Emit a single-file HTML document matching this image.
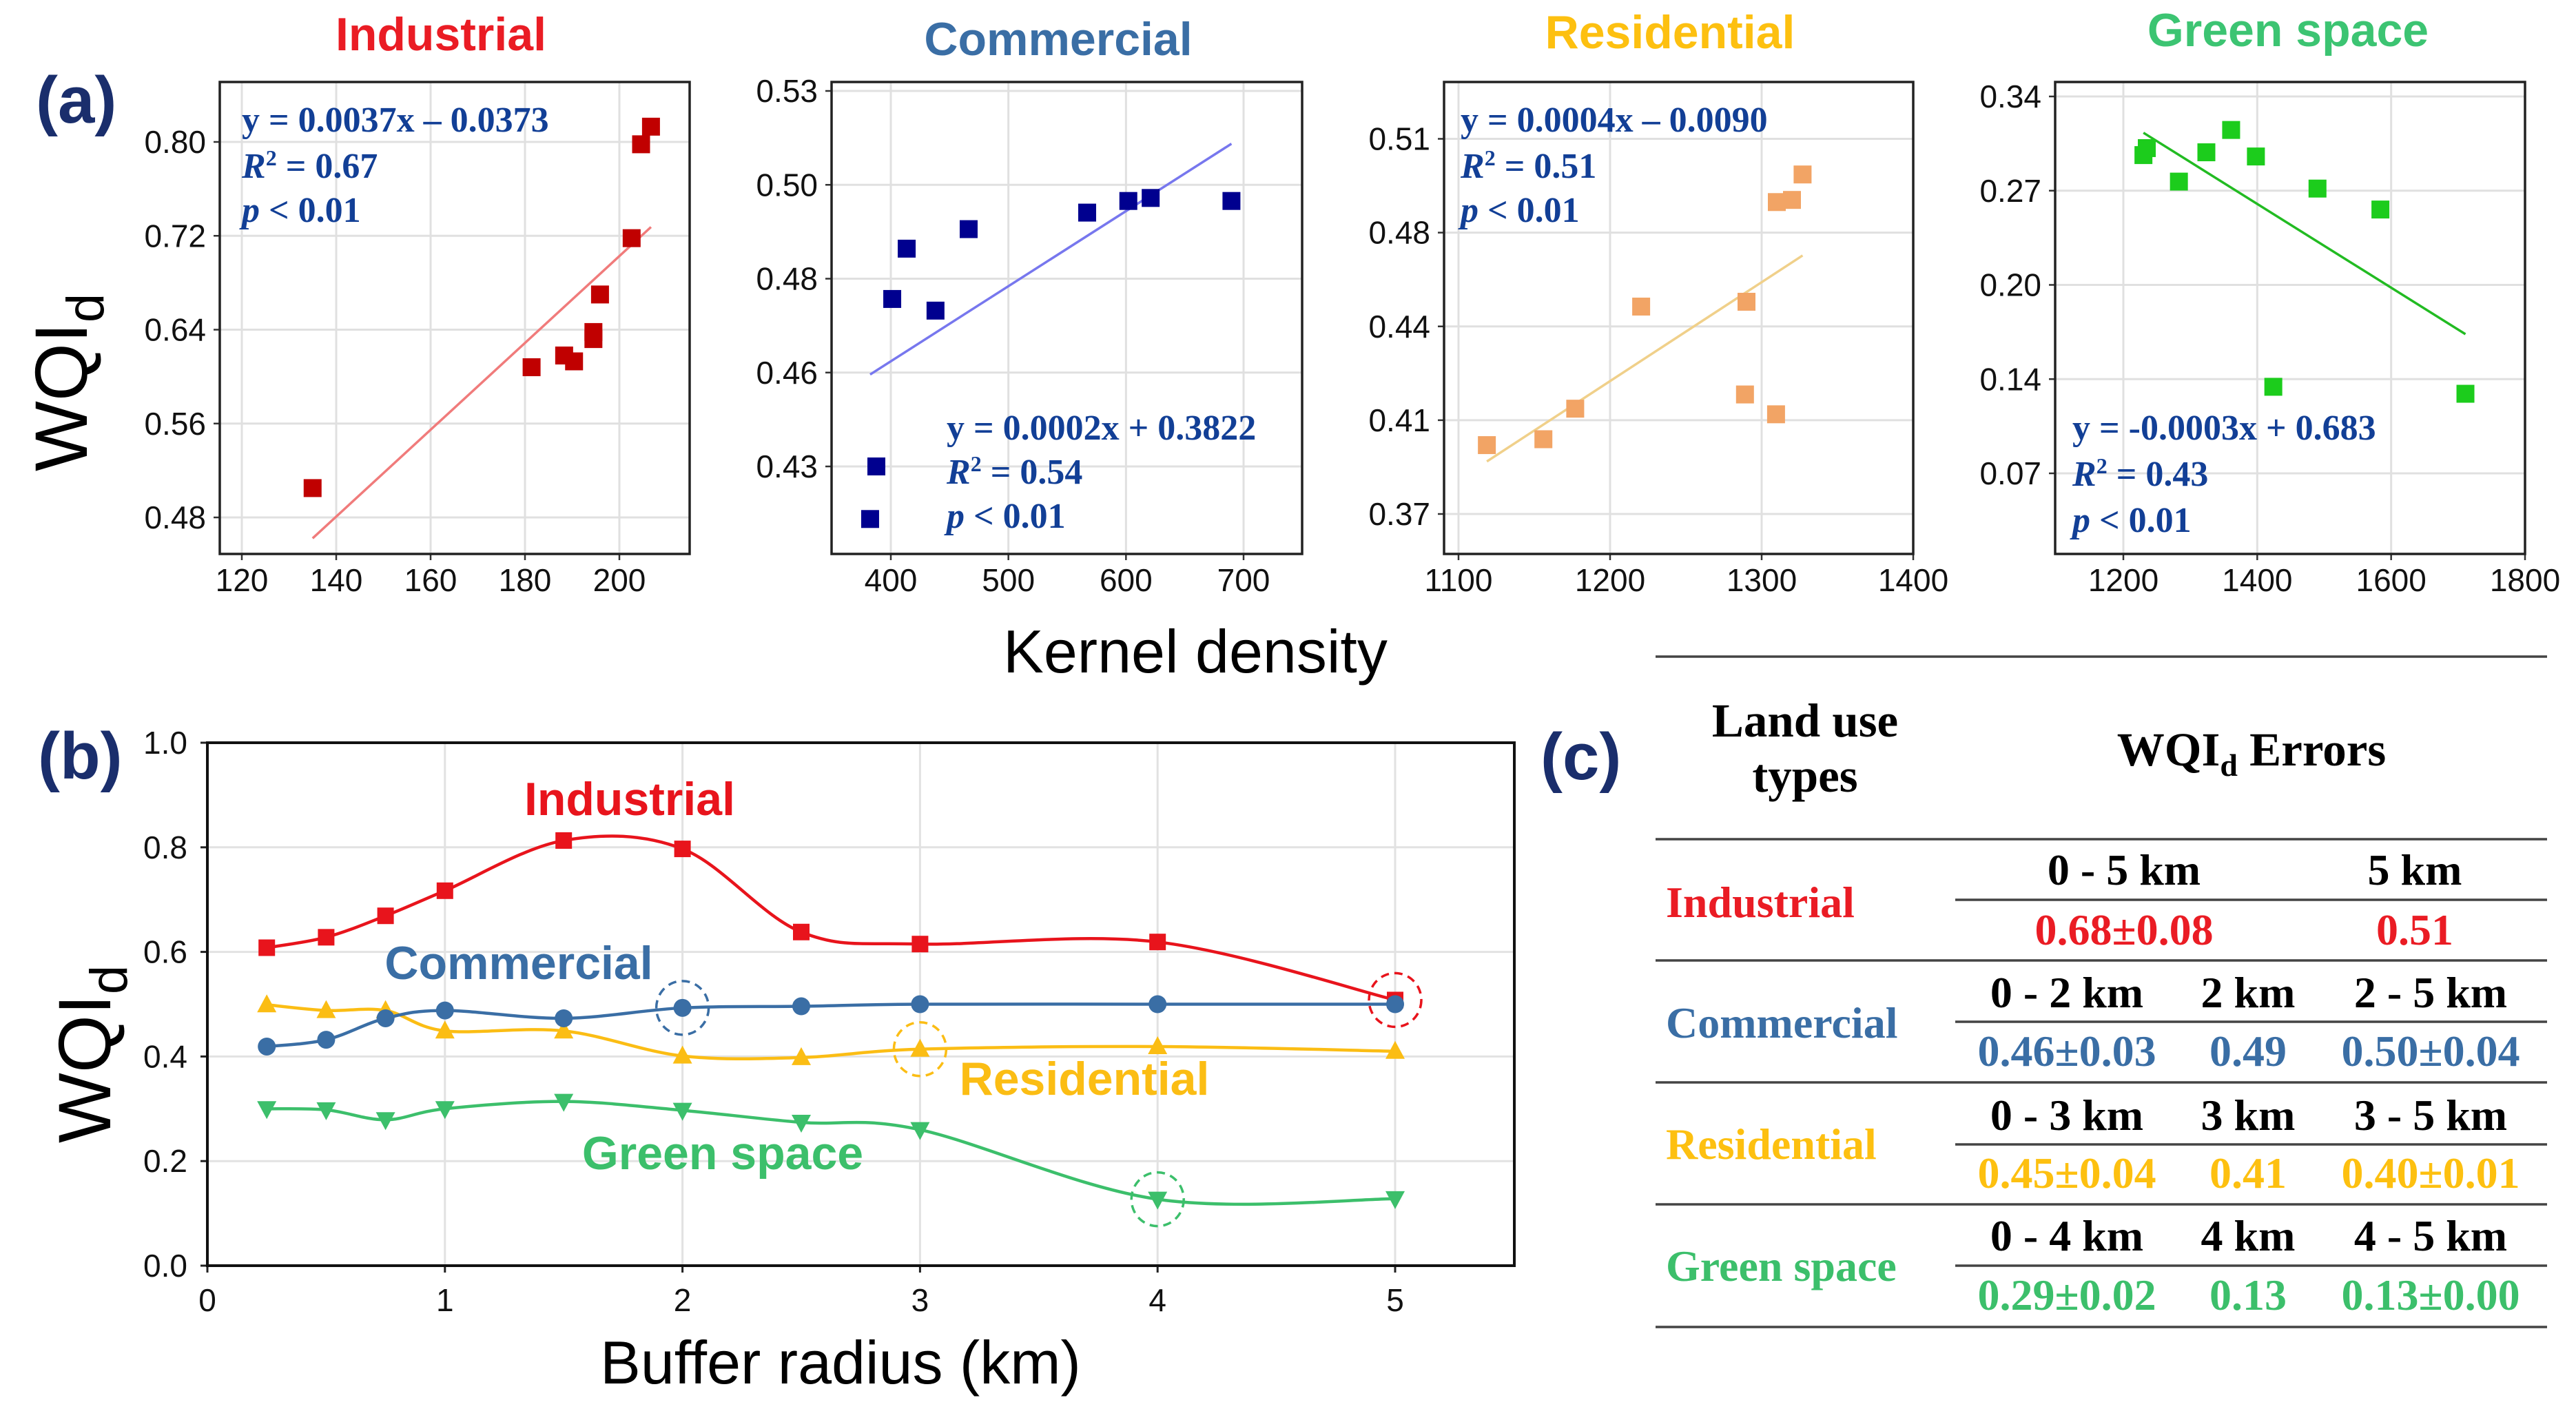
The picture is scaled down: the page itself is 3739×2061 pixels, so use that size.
<!DOCTYPE html>
<html><head><meta charset="utf-8"><style>
html,body{margin:0;padding:0;background:#fff;}
svg{display:block;}
.tk{font-family:"Liberation Sans",Arial,sans-serif;font-size:46px;fill:#111;}
.tt{font-family:"Liberation Sans",Arial,sans-serif;font-weight:bold;font-size:68px;}
.eq{font-family:"Liberation Serif","Times New Roman",serif;font-weight:bold;font-size:52px;fill:#123f96;}
.tb{font-family:"Liberation Serif","Times New Roman",serif;font-weight:bold;}
</style></head><body>
<svg id="fig" width="3739" height="2061" viewBox="0 0 3739 2061" xmlns="http://www.w3.org/2000/svg"></svg>
<script>
// ---------- Panel (a) data ----------
const indX=[135,181.4,188.3,190.4,194.5,194.5,195.9,202.6,204.6,206.7];
const indY=[0.505,0.608,0.618,0.613,0.632,0.638,0.670,0.718,0.798,0.813];
const indFit=[0.0037,-0.0373];
const comX=[382.4,387.7,401.2,413.5,438,466.2,567,602,621,689.7];
const comY=[0.416,0.430,0.4746,0.488,0.4715,0.4932,0.4976,0.5007,0.5015,0.5007];
const comFit=[0.0002,0.378];
const resX=[1118.7,1156,1177,1220.5,1290,1289,1309.5,1310,1320,1327];
const resY=[0.3957,0.3979,0.4093,0.4474,0.4492,0.4146,0.4072,0.4864,0.4872,0.4967];
const resFit=[0.000369,-0.0232];
const grnX=[1230,1235,1283,1324,1361,1398,1490,1584,1424,1711];
const grnY=[0.298,0.303,0.279,0.300,0.316,0.297,0.274,0.259,0.132,0.127];
const grnFit=[-0.0003,0.683];
const indXT=[120,140,160,180,200];
const comXT=[400,500,600,700];
const resXT=[1100,1200,1300,1400];
const grnXT=[1200,1400,1600,1800];
const indYT=[0.48,0.56,0.64,0.72,0.80];
const indYL=["0.48","0.56","0.64","0.72","0.80"];
const comYT=[0.43,0.455,0.48,0.505,0.53];
const comYL=["0.43","0.46","0.48","0.50","0.53"];
const resYT=[0.37,0.405,0.44,0.475,0.51];
const resYL=["0.37","0.41","0.44","0.48","0.51"];
const grnYT=[0.07,0.1375,0.205,0.2725,0.34];
const grnYL=["0.07","0.14","0.20","0.27","0.34"];
// ---------- Panel (b) data ----------
const bufX=[0.25,0.5,0.75,1,1.5,2,2.5,3,4,5];
const bInd=[0.608,0.628,0.669,0.717,0.813,0.797,0.638,0.615,0.619,0.508];
const bCom=[0.419,0.432,0.473,0.488,0.473,0.493,0.496,0.5,0.5,0.5];
const bRes=[0.499,0.488,0.488,0.449,0.449,0.401,0.398,0.414,0.419,0.41];
const bGrn=[0.300,0.298,0.279,0.300,0.314,0.297,0.274,0.260,0.127,0.128];
const bXT=[0,1,2,3,4,5];
const bYT=[0,0.2,0.4,0.6,0.8,1.0];
const bYL=["0.0","0.2","0.4","0.6","0.8","1.0"];

const NS="http://www.w3.org/2000/svg";
const svg=document.getElementById('fig');
function mk(tag,attrs,parent,text){const e=document.createElementNS(NS,tag);for(const k in attrs)e.setAttribute(k,attrs[k]);if(text!==undefined)e.textContent=text;(parent||svg).appendChild(e);return e;}
function lin(d0,d1,r0,r1){return v=>r0+(v-d0)*(r1-r0)/(d1-d0);}

function scatter(cfg){
  const g=mk('g',{});
  
  
  const sx=lin(cfg.xd[0],cfg.xd[1],cfg.xr[0],cfg.xr[1]);
  const sy=lin(cfg.yd[0],cfg.yd[1],cfg.yr[0],cfg.yr[1]);
  const B=cfg.box;
  mk('rect',{x:B[0],y:B[1],width:B[2]-B[0],height:B[3]-B[1],fill:'#fff'},g);
  cfg.xt.forEach(v=>{
    const x=sx(v);
    const gl=mk('line',{x1:x,x2:x,y1:B[1],y2:B[3],stroke:'#e0e0e0','stroke-width':3},g);
    
    
    mk('line',{x1:x,x2:x,y1:B[3],y2:B[3]+9,stroke:'#333','stroke-width':2.5},g);
    const t=mk('text',{x:x,y:858,'text-anchor':'middle',class:'tk'},g,String(v));
    
    
  });
  cfg.yt.forEach((v,i)=>{
    const y=sy(v);
    const gl=mk('line',{x1:B[0],x2:B[2],y1:y,y2:y,stroke:'#e0e0e0','stroke-width':3},g);
    
    
    mk('line',{x1:B[0]-9,x2:B[0],y1:y,y2:y,stroke:'#333','stroke-width':2.5},g);
    const t=mk('text',{x:B[0]-20,y:y+16,'text-anchor':'end',class:'tk'},g,cfg.yl[i]);
    
    
  });
  mk('rect',{x:B[0],y:B[1],width:B[2]-B[0],height:B[3]-B[1],fill:'none',stroke:'#222','stroke-width':3.5},g);
  const xmin=Math.min(...cfg.x),xmax=Math.max(...cfg.x);
  const fl=mk('line',{x1:sx(xmin),y1:sy(cfg.fit[0]*xmin+cfg.fit[1]),x2:sx(xmax),y2:sy(cfg.fit[0]*xmax+cfg.fit[1]),stroke:cfg.lc,'stroke-width':3.5},g);
  
  
  cfg.x.forEach((v,i)=>{
    const r=mk('rect',{x:sx(v)-13,y:sy(cfg.y[i])-13,width:26,height:26,fill:cfg.pc},g);
    
    
  });
  const tt=mk('text',{x:cfg.title[1],y:cfg.title[2],'text-anchor':'middle',class:'tt',fill:cfg.tc},g,cfg.title[0]);
  
  
  const ex=cfg.eq[0],eys=cfg.eq[1];
  const e1=mk('text',{x:ex,y:eys[0],class:'eq'},g,cfg.eqText);
  
  
  const e2=mk('text',{x:ex,y:eys[1],class:'eq'},g);
  
  
  mk('tspan',{'font-style':'italic'},e2,'R');
  mk('tspan',{'font-size':'32px',dy:-18},e2,'2');
  mk('tspan',{dy:18},e2,' = '+cfg.r2);
  const e3=mk('text',{x:ex,y:eys[2],class:'eq'},g);
  
  
  mk('tspan',{'font-style':'italic'},e3,'p');
  mk('tspan',{},e3,' < 0.01');
}
const topEq=[191,258,322];
scatter({name:'industrial',x:indX,y:indY,fit:indFit,xt:indXT,yt:indYT,yl:indYL,box:[319,119,1001,804],xd:[120,200],xr:[351,899],yd:[0.48,0.80],yr:[751,206],pc:'#c00000',lc:'#f07b7b',title:['Industrial',640,73],tc:'#ea1c24',eq:[351,topEq],eqText:'y = 0.0037x – 0.0373',r2:'0.67'});
scatter({name:'commercial',x:comX,y:comY,fit:comFit,xt:comXT,yt:comYT,yl:comYL,box:[1207,119,1890,804],xd:[400,700],xr:[1293,1805],yd:[0.43,0.53],yr:[677,132],pc:'#00008f',lc:'#7777ee',title:['Commercial',1536,80],tc:'#3a6ea5',eq:[1374,[638,702,766]],eqText:'y = 0.0002x + 0.3822',r2:'0.54'});
scatter({name:'residential',x:resX,y:resY,fit:resFit,xt:resXT,yt:resYT,yl:resYL,box:[2096,119,2777,804],xd:[1100,1400],xr:[2117,2777],yd:[0.37,0.51],yr:[746,201.5],pc:'#f2a465',lc:'#f0d08a',title:['Residential',2424,70],tc:'#fdc010',eq:[2120,topEq],eqText:'y = 0.0004x – 0.0090',r2:'0.51'});
scatter({name:'green-space',x:grnX,y:grnY,fit:grnFit,xt:grnXT,yt:grnYT,yl:grnYL,box:[2983,119,3665,804],xd:[1200,1800],xr:[3082,3665],yd:[0.07,0.34],yr:[687,140],pc:'#1ccc1c',lc:'#22bb22',title:['Green space',3321,67],tc:'#3cc472',eq:[3008,[638,705,772]],eqText:'y = -0.0003x + 0.683',r2:'0.43'});

function lab(txt,x,y,name){const t=mk('text',{x:x,y:y,'font-family':'"Liberation Sans",Arial,sans-serif','font-weight':'bold','font-size':96,fill:'#1a2e6c'},svg,txt);}
lab('(a)',52,178,'panel-a-label');
lab('(b)',55,1130,'panel-b-label');
lab('(c)',2236,1131,'panel-c-label');

function wqi(x,y,name){
  const t=mk('text',{transform:`translate(${x},${y}) rotate(-90)`,'text-anchor':'middle','font-family':'"Liberation Sans",Arial,sans-serif','font-size':108,fill:'#000'});
  
  
  mk('tspan',{},t,'WQI');
  mk('tspan',{'font-size':76,dy:24},t,'d');
}
wqi(126,555,'y-axis-title-a');
wqi(160,1530,'y-axis-title-b');
const kd=mk('text',{x:1735,y:976,'text-anchor':'middle','font-family':'"Liberation Sans",Arial,sans-serif','font-size':88,fill:'#000'},svg,'Kernel density');



// ---------- Panel (b) ----------
(function(){
  const g=mk('g',{});
  
  
  const B=[301,1078,2198,1837];
  const sx=lin(0,5,301,2025), sy=lin(0,1,1837,1078);
  bXT.forEach(v=>{const x=sx(v);
    mk('line',{x1:x,x2:x,y1:B[1],y2:B[3],stroke:'#e2e2e2','stroke-width':3},g);
    mk('line',{x1:x,x2:x,y1:B[3],y2:B[3]+10,stroke:'#222','stroke-width':3},g);
    const t=mk('text',{x:x,y:1903,'text-anchor':'middle',class:'tk'},g,String(v));
    
    });
  bYT.forEach((v,i)=>{const y=sy(v);
    mk('line',{x1:B[0],x2:B[2],y1:y,y2:y,stroke:'#e2e2e2','stroke-width':3},g);
    mk('line',{x1:B[0]-10,x2:B[0],y1:y,y2:y,stroke:'#222','stroke-width':3},g);
    const t=mk('text',{x:272,y:y+16,'text-anchor':'end',class:'tk'},g,bYL[i]);
    
    });
  mk('rect',{x:B[0],y:B[1],width:B[2]-B[0],height:B[3]-B[1],fill:'none',stroke:'#111','stroke-width':4},g);
  function spline(ys){
    const p=bufX.map((v,i)=>[sx(v),sy(ys[i])]);
    let d=`M${p[0][0]},${p[0][1]}`;
    for(let i=0;i<p.length-1;i++){
      const p0=p[i-1]||p[i],p1=p[i],p2=p[i+1],p3=p[i+2]||p[i+1];
      const c1=[p1[0]+(p2[0]-p0[0])/6,p1[1]+(p2[1]-p0[1])/6];
      const c2=[p2[0]-(p3[0]-p1[0])/6,p2[1]-(p3[1]-p1[1])/6];
      d+=` C${c1[0]},${c1[1]} ${c2[0]},${c2[1]} ${p2[0]},${p2[1]}`;
    }
    return d;
  }
  const series=[
    {n:'industrial',y:bInd,c:'#e8141c',m:'sq'},
    {n:'residential',y:bRes,c:'#fbbd14',m:'up'},
    {n:'commercial',y:bCom,c:'#3a6ea5',m:'ci'},
    {n:'green-space',y:bGrn,c:'#3cbf6b',m:'dn'}];
  series.forEach(s=>{
    const pth=mk('path',{d:spline(s.y),fill:'none',stroke:s.c,'stroke-width':4.5},g);
    
    
    bufX.forEach((v,i)=>{
      const x=sx(v),y=sy(s.y[i]);let m;
      if(s.m==='sq')m=mk('rect',{x:x-12,y:y-12,width:24,height:24,fill:s.c},g);
      else if(s.m==='ci')m=mk('circle',{cx:x,cy:y,r:13,fill:s.c},g);
      else if(s.m==='up')m=mk('polygon',{points:`${x},${y-15} ${x-14},${y+11} ${x+14},${y+11}`,fill:s.c},g);
      else m=mk('polygon',{points:`${x},${y+15} ${x-14},${y-11} ${x+14},${y-11}`,fill:s.c},g);
      
      
    });
  });
  [[5,bInd[9],'#e8141c'],[2,bCom[5],'#3a6ea5'],[3,bRes[7],'#fbbd14'],[4,bGrn[8],'#3cbf6b']].forEach(c=>{
    const e=mk('ellipse',{cx:sx(c[0]),cy:sy(c[1]),rx:38,ry:39,fill:'none',stroke:c[2],'stroke-width':3.5,'stroke-dasharray':'12 8'},g);
    
    
  });
  [['Industrial',914,1183,'#e8141c'],['Commercial',753,1421,'#3a6ea5'],['Residential',1574,1589,'#fbbd14'],['Green space',1049,1697,'#3cbf6b']].forEach(l=>{
    const t=mk('text',{x:l[1],y:l[2],'text-anchor':'middle',class:'tt',fill:l[3]},g,l[0]);
    
    
  });
  const xt=mk('text',{x:1220,y:2008,'text-anchor':'middle','font-family':'"Liberation Sans",Arial,sans-serif','font-size':88,fill:'#000'},g,'Buffer radius (km)');
  
  
})();

// ---------- Panel (c) table ----------
(function(){
  const g=mk('g',{});
  
  
  [953,1218,1394,1571,1748,1926].forEach(y=>mk('line',{x1:2403,x2:3697,y1:y,y2:y,stroke:'#444','stroke-width':3.5},g));
  [1306,1483,1661,1837].forEach(y=>mk('line',{x1:2838,x2:3697,y1:y,y2:y,stroke:'#444','stroke-width':3.5},g));
  function T(txt,x,y,col,size,anchor,name){const t=mk('text',{x:x,y:y,'text-anchor':anchor||'middle',class:'tb','font-size':size,fill:col},g,txt);return t;}
  T('Land use',2620,1069,'#000',69,'middle','header-land-use');
  T('types',2620,1149,'#000',69,'middle','header-types');
  const h=T('WQI',3268,1111,'#000',69,'middle','header-wqid-errors');
  h.textContent='';
  mk('tspan',{},h,'WQI');
  mk('tspan',{'font-size':46,dy:15},h,'d');
  mk('tspan',{dy:-15},h,' Errors');
  const rows=[
    ['Industrial','#ea1c24',1331,[['0 - 5 km','0.68±0.08',3083],['5 km','0.51',3505]],1284,1371],
    ['Commercial','#3a6ea5',1506,[['0 - 2 km','0.46±0.03',3000],['2 km','0.49',3263],['2 - 5 km','0.50±0.04',3528]],1462,1547],
    ['Residential','#fdc010',1682,[['0 - 3 km','0.45±0.04',3000],['3 km','0.41',3263],['3 - 5 km','0.40±0.01',3528]],1640,1724],
    ['Green space','#3cbf6b',1859,[['0 - 4 km','0.29±0.02',3000],['4 km','0.13',3263],['4 - 5 km','0.13±0.00',3528]],1815,1901]];
  rows.forEach(r=>{
    T(r[0],2418,r[2],r[1],64,'start','row-label');
    r[3].forEach(c=>{T(c[0],c[2],r[4],'#000',64,'middle','range-header');T(c[1],c[2],r[5],r[1],64,'middle','error-value');});
  });
})();
</script>
</body></html>
